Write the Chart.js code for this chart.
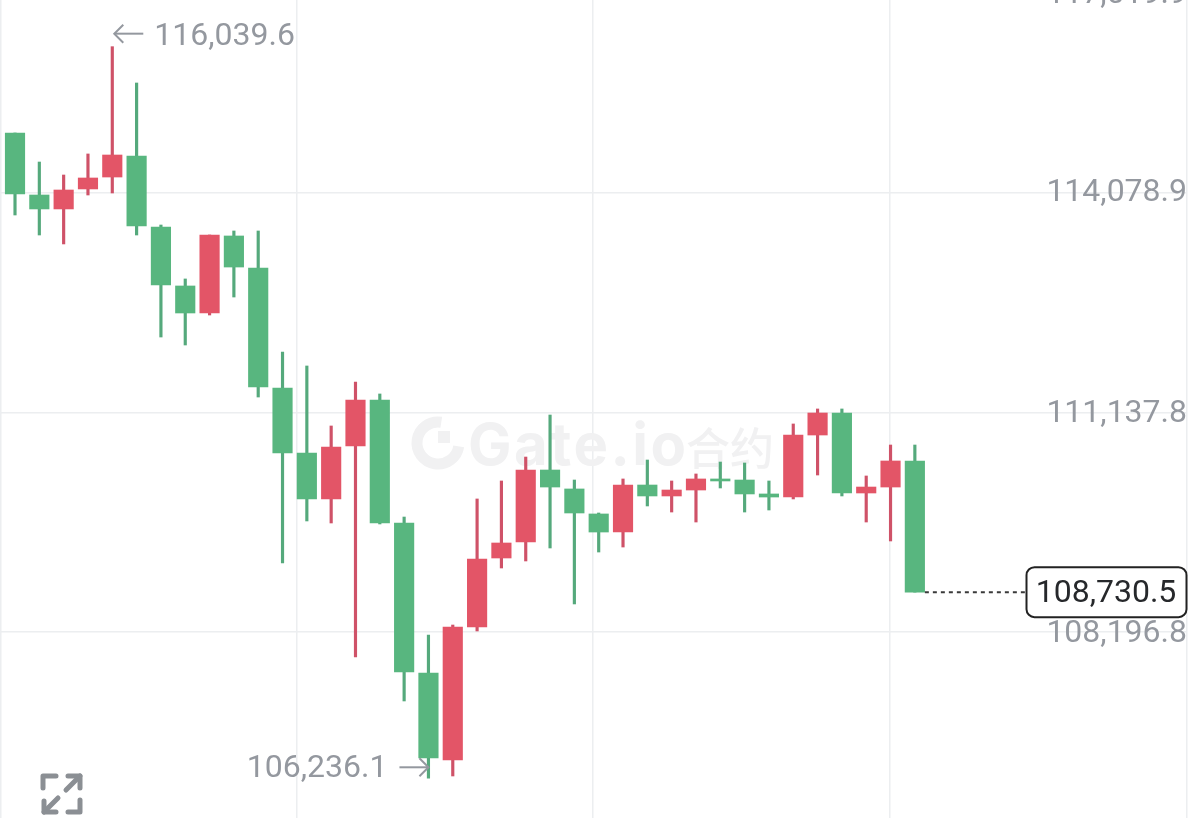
<!DOCTYPE html>
<html>
<head>
<meta charset="utf-8">
<title>BTC futures candles</title>
<script src="https://cdn.jsdelivr.net/npm/chart.js@4/dist/chart.umd.min.js"></script>
<style>
  html, body { margin: 0; padding: 0; background: #fff; overflow: hidden; }
  canvas { display: block; }
</style>
</head>
<body>
<canvas id="myChart" width="1199" height="818"></canvas>
<script>
// candles, oldest first. close < open is green here, close > open is red
const opens = [114883,114052,113865,114133,114293,114575,113623,112833,112471,113503,113074,111466,110595,109979,110689,111305,109657,107647,106481,108263,109188,109402,110367,110113,109778,109536,110166,110019,110099,110247,110233,110046,110005,110836,111131,110059,110139,110488];
const closes = [114066,113865,114119,114280,114588,113637,112846,112471,113516,113087,111479,110595,109979,110675,111305,109657,107660,106508,108263,109175,109389,110367,110139,109791,109536,110166,110019,110099,110247,110220,110046,110005,110836,111131,110059,110139,110488,108730.5];
const highs = [114883,114494,114320,114602,116039.6,115553,113650,112927,113516,113570,113570,111948,111761,110957,111546,111386,109737,108156,108290,109979,110220,110541,111104,110233,109791,110247,110501,110220,110314,110474,110461,110220,110984,111185,111185,110287,110702,110702];
const lows = [113784,113516,113396,114052,114079,113516,112149,112042,112444,112685,111345,109121,109684,109657,107861,109644,107272,106236.1,106267,108210,109054,109148,109322,108572,109268,109335,109885,109804,109670,110126,109804,109831,109979,110300,110019,109670,109416,108730.5];

const priceTicks = [114078.9, 111137.8, 108196.8];
const topPriceTick = 117019.9;      // only the bottom of this label shows
const timeGrid = [-0.58, 11.6, 23.77, 35.98, 48.19];
const highIndex = 4;
const lowIndex = 17;
const lastPrice = 108730.5;

const GREEN = "#58b67f";
const RED = "#e35567";
const GREEN_WICK = "#55a97c";
const RED_WICK = "#cf5268";
const LABEL = "#94989f";
const GRID = "#eceef0";
const FONT = "32px Roboto";

function fmt(v) {
  return v.toLocaleString("en-US", { minimumFractionDigits: 1, maximumFractionDigits: 1 });
}
function isUp(i) {
  return closes[i] > opens[i];
}

const wickData = highs.map((h, i) => ({ x: i, y: [lows[i], h] }));
const bodyData = opens.map((o, i) => ({ x: i, y: [o, closes[i]] }));

function line(ctx, pts) {
  ctx.beginPath();
  pts.forEach((p, i) => (i == 0 ? ctx.moveTo(p[0], p[1]) : ctx.lineTo(p[0], p[1])));
  ctx.stroke();
}

// faint logo + name behind the candles
const watermark = {
  id: "watermark",
  beforeDatasetsDraw(chart) {
    const ctx = chart.ctx;
    ctx.save();
    ctx.strokeStyle = "#f1f1f2";
    ctx.fillStyle = "#f1f1f2";
    ctx.lineWidth = 11;
    ctx.beginPath();
    ctx.arc(438, 443, 21, 0.05 * Math.PI, 1.55 * Math.PI);
    ctx.stroke();
    ctx.fillRect(438, 431, 12, 12);
    ctx.textBaseline = "alphabetic";
    ctx.textAlign = "left";
    ctx.font = "700 58px Inter";
    ctx.letterSpacing = "2.5px";
    ctx.fillText("Gate.io", 468, 465);
    ctx.letterSpacing = "0px";
    ctx.font = "500 44px 'Noto Sans CJK SC'";
    ctx.fillText("合约", 686, 465);
    ctx.restore();
  }
};

// price labels, high/low callouts, last price tag, fullscreen icon
const overlays = {
  id: "overlays",
  afterDraw(chart) {
    const ctx = chart.ctx;
    const xs = chart.scales.x;
    const ys = chart.scales.y;
    const right = chart.chartArea.right;
    ctx.save();
    ctx.font = FONT;
    ctx.textBaseline = "middle";

    ctx.fillStyle = LABEL;
    ctx.textAlign = "right";
    ctx.fillText(fmt(priceTicks[0]), right, ys.getPixelForValue(priceTicks[0]));
    ctx.fillText(fmt(priceTicks[1]), right, ys.getPixelForValue(priceTicks[1]) + 2);
    ctx.fillText(fmt(priceTicks[2]), right, ys.getPixelForValue(priceTicks[2]) + 2);
    // top label, cropped by the edge of the picture
    ctx.fillText(fmt(topPriceTick), right, ys.getPixelForValue(topPriceTick) + 21);

    // highest
    let hx = xs.getPixelForValue(highIndex);
    let hy = ys.getPixelForValue(highs[highIndex]) - 13;
    ctx.strokeStyle = LABEL;
    ctx.lineWidth = 2;
    line(ctx, [[hx + 2, hy], [hx + 31, hy]]);
    line(ctx, [[hx + 11, hy - 9], [hx + 2, hy], [hx + 11, hy + 9]]);
    ctx.textAlign = "left";
    ctx.fillText(fmt(highs[highIndex]), hx + 42, hy + 3);

    // lowest
    let lx = xs.getPixelForValue(lowIndex);
    let ly = ys.getPixelForValue(lows[lowIndex]) - 11;
    line(ctx, [[lx - 29, ly], [lx, ly]]);
    line(ctx, [[lx - 9, ly - 9], [lx, ly], [lx - 9, ly + 9]]);
    ctx.textAlign = "right";
    ctx.fillText(fmt(lows[lowIndex]), lx - 41, ly + 2);

    // dashed line to the last price tag
    let py = ys.getPixelForValue(lastPrice);
    let px = xs.getPixelForValue(closes.length - 1) + 10;
    ctx.strokeStyle = "#3a3a3a";
    ctx.lineWidth = 2;
    ctx.setLineDash([4, 4]);
    line(ctx, [[px, py], [1027, py]]);
    ctx.setLineDash([]);
    ctx.beginPath();
    ctx.roundRect(1026.5, py - 25, 160, 50, 8);
    ctx.fillStyle = "#fff";
    ctx.fill();
    ctx.strokeStyle = "#222";
    ctx.stroke();
    ctx.fillStyle = "#26282b";
    ctx.textAlign = "center";
    ctx.fillText(fmt(lastPrice), 1106, py + 2);

    // fullscreen icon
    ctx.strokeStyle = "#8b8f94";
    ctx.lineWidth = 5;
    ctx.lineCap = "round";
    ctx.lineJoin = "round";
    line(ctx, [[43, 788], [43, 776], [56, 776]]);
    line(ctx, [[66, 790], [80, 776]]);
    line(ctx, [[68, 776], [80, 776], [80, 788]]);
    line(ctx, [[58, 798], [44, 812]]);
    line(ctx, [[44, 801], [44, 812], [56, 812]]);
    line(ctx, [[80, 800], [80, 812], [68, 812]]);
    ctx.restore();
  }
};

new Chart(document.getElementById("myChart"), {
  type: "bar",
  data: {
    datasets: [
      {
        label: "wick",
        data: wickData,
        backgroundColor: highs.map((h, i) => (isUp(i) ? RED_WICK : GREEN_WICK)),
        barThickness: 2.5,
        grouped: false,
        borderSkipped: false,
        order: 2
      },
      {
        label: "body",
        data: bodyData,
        backgroundColor: opens.map((o, i) => (isUp(i) ? RED : GREEN)),
        barThickness: 19.5,
        minBarLength: 2,
        grouped: false,
        borderSkipped: false,
        order: 1
      }
    ]
  },
  options: {
    responsive: false,
    animation: false,
    layout: { padding: { left: 0, right: 12, top: 0, bottom: 0 } },
    plugins: {
      legend: { display: false },
      tooltip: { enabled: false },
      title: { display: false }
    },
    scales: {
      x: {
        type: "linear",
        offset: false,
        min: -0.617,
        max: 48.19,
        afterBuildTicks: (scale) => {
          scale.ticks = timeGrid.map((v) => ({ value: v }));
        },
        ticks: { display: false },
        border: { display: false },
        grid: { color: GRID, offset: false, lineWidth: 1.5, drawTicks: false }
      },
      y: {
        position: "right",
        min: 105704,
        max: 116665,
        afterBuildTicks: (scale) => {
          scale.ticks = priceTicks.map((v) => ({ value: v }));
        },
        ticks: { display: false },
        border: { display: false },
        grid: { color: GRID, lineWidth: 1.5, drawTicks: false }
      }
    }
  },
  plugins: [watermark, overlays]
});
</script>
</body>
</html>
